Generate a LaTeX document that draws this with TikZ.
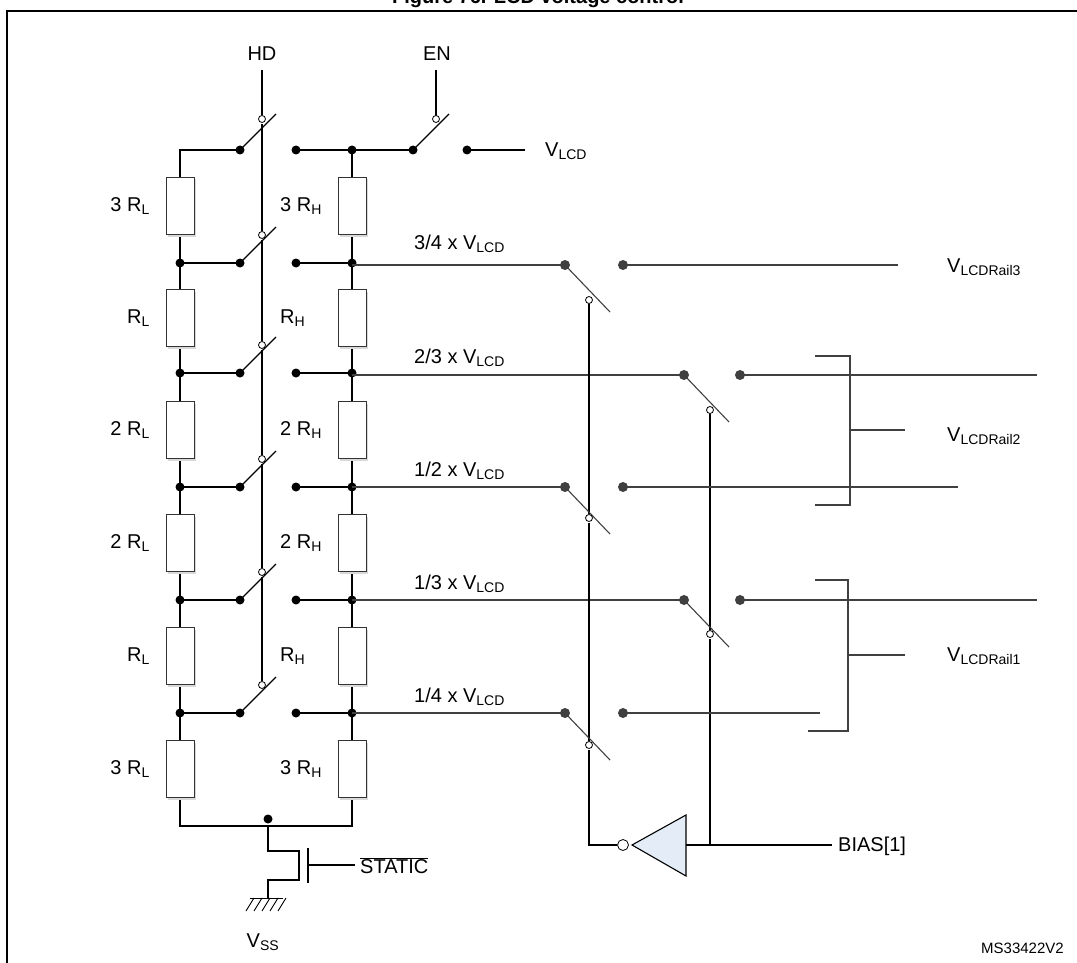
\documentclass[tikz,border=0pt]{standalone}
\usepackage{fontspec}
\setmainfont{Liberation Sans}
\usetikzlibrary{shadows}
\definecolor{invfill}{RGB}{227,236,247}
\newcommand{\sbs}[1]{\textsubscript{\fontsize{14}{16}\selectfont #1}}
\begin{document}
\begin{tikzpicture}[x=1pt,y=-1pt,
  w/.style={line width=1.1pt,black},
  g/.style={line width=1.1pt,black!75},
  dot/.style={circle,fill=black,inner sep=0pt,minimum size=9pt},
  gdot/.style={circle,fill=black!75,inner sep=0pt,minimum size=10pt},
  ocirc/.style={circle,draw,fill=white,line width=0.8pt,inner sep=0pt,minimum size=7pt},
  res/.style={draw=black!80,line width=0.9pt,fill=white,minimum width=28pt,minimum height=57pt,inner sep=0pt,
     drop shadow={shadow xshift=2pt,shadow yshift=-2pt,fill=black!15,opacity=1}},
  lab/.style={font=\fontsize{20}{24}\selectfont,inner sep=0pt}]
\useasboundingbox (0,0) rectangle (1077,963);
\begin{scope}
\clip (0,0) rectangle (1077,963);
\node[font=\bfseries\fontsize{20}{24}\selectfont,anchor=base] at (538,4) {Figure 76. LCD voltage control};
\draw[line width=1.5pt] (7,963) -- (7,11) -- (1080,11);
\end{scope}
% rows
\foreach \y in {263,373,487,600,713}{
  \draw[w] (180,\y) -- (240,\y);
  \draw[w] (296,\y) -- (352,\y);
  \node[dot] at (180,\y) {};
  \node[dot] at (240,\y) {};
  \node[dot] at (296,\y) {};
  \node[dot] at (352,\y) {};
  \draw[w] (240,\y) -- (276,\y-36);
  \node[ocirc] at (262,\y-28) {};
}
% top row
\draw[w] (180,232) -- (180,150) -- (240,150);
\draw[w] (296,150) -- (413,150);
\node[dot] at (240,150) {}; \node[dot] at (296,150) {}; \node[dot] at (352,150) {};
\node[dot] at (413,150) {}; \node[dot] at (467,150) {};
\draw[w] (240,150) -- (276,114);
\draw[w] (413,150) -- (449,114);
\draw[w] (467,150) -- (525,150);
\draw[w] (436,70) -- (436,116);
\node[ocirc] at (262,119) {};
\node[ocirc] at (436,119) {};
% HD line
\draw[w] (262,70) -- (262,115);
\draw[w] (262,124) -- (262,231);
\draw[w] (262,240) -- (262,341);
\draw[w] (262,350) -- (262,455);
\draw[w] (262,464) -- (262,568);
\draw[w] (262,577) -- (262,681);
\node[lab] at (262,54) {HD};
\node[lab] at (437,54) {EN};
\node[lab,anchor=west] at (545,151) {V\sbs{LCD}};
% columns & resistors
\draw[w] (352,150) -- (352,826) -- (180,826) -- (180,232);
\foreach \c/\l/\ll in {206/3 /3 ,318//,430/2 /2 ,543/2 /2 ,656//,769/3 /3 }{
  \node[res] at (180,\c) {};
  \node[res] at (352,\c) {};
  \node[lab,anchor=east] at (150,\c) {\l R\sbs{L}};
  \node[lab,anchor=west] at (280,\c) {\ll R\sbs{H}};
}
% bottom transistor
\node[dot] at (268,819) {};
\draw[w] (268,826) -- (268,851) -- (299,851) -- (299,880) -- (268,880) -- (268,898);
\draw[w] (308,848) -- (308,883);
\draw[w] (308,865) -- (355,865);
\node[lab,anchor=west] at (360,866) {$\overline{\mbox{STATIC}}$};
\draw[line width=0.9pt] (250,898) -- (283,898);
\foreach \x in {254,262,270,278,286}{\draw[line width=0.9pt] (\x,898) -- (\x-8,911);}
\node[lab] at (263,942) {V\sbs{SS}};
% rail labels and lines
\node[lab,anchor=west] at (414,244) {3/4 x V\sbs{LCD}};
\node[lab,anchor=west] at (414,358) {2/3 x V\sbs{LCD}};
\node[lab,anchor=west] at (414,471) {1/2 x V\sbs{LCD}};
\node[lab,anchor=west] at (414,584) {1/3 x V\sbs{LCD}};
\node[lab,anchor=west] at (414,697) {1/4 x V\sbs{LCD}};
\draw[g] (352,265) -- (565,265);
\draw[g] (352,375) -- (684,375);
\draw[g] (352,487) -- (565,487);
\draw[g] (352,600) -- (684,600);
\draw[g] (352,713) -- (565,713);
% control lines
\draw[w] (589,304) -- (589,514);
\draw[w] (589,523) -- (589,741);
\draw[w] (589,750) -- (589,845) -- (617,845);
\draw[w] (710,414) -- (710,630);
\draw[w] (710,639) -- (710,845);
% right switches
\foreach \x/\y/\r/\e in {565/265/623/898, 684/375/740/1037, 565/487/623/958, 684/600/740/1037, 565/713/623/820}{
  \draw[g] (\x,\y) -- (\x+45,\y+47);
  \node[gdot] at (\x,\y) {};
  \node[gdot] at (\r,\y) {};
  \draw[g] (\r,\y) -- (\e,\y);
}
\node[ocirc] at (589,300) {};
\node[ocirc] at (589,518) {};
\node[ocirc] at (589,745) {};
\node[ocirc] at (710,410) {};
\node[ocirc] at (710,634) {};
% brackets
\draw[g] (815,356) -- (850,356) -- (850,505) -- (815,505);
\draw[g] (850,430) -- (905,430);
\draw[g] (815,580) -- (848,580) -- (848,731) -- (808,731);
\draw[g] (848,655) -- (905,655);
\node[lab,anchor=west] at (947,267) {V\sbs{LCDRail3}};
\node[lab,anchor=west] at (947,436) {V\sbs{LCDRail2}};
\node[lab,anchor=west] at (947,656) {V\sbs{LCDRail1}};
% inverter
\draw[line width=1.1pt,fill=invfill] (686,815) -- (686,876) -- (632,845) -- cycle;
\node[ocirc,minimum size=11pt] at (623,845) {};
\draw[w] (686,845) -- (832,845);
\node[lab,anchor=west] at (838,846) {BIAS[1]};
\begin{scope}
\clip (0,0) rectangle (1077,963);
\node[font=\fontsize{15}{18}\selectfont,anchor=west,inner sep=0pt] at (981,948) {MS33422V2};
\end{scope}
\end{tikzpicture}
\end{document}
